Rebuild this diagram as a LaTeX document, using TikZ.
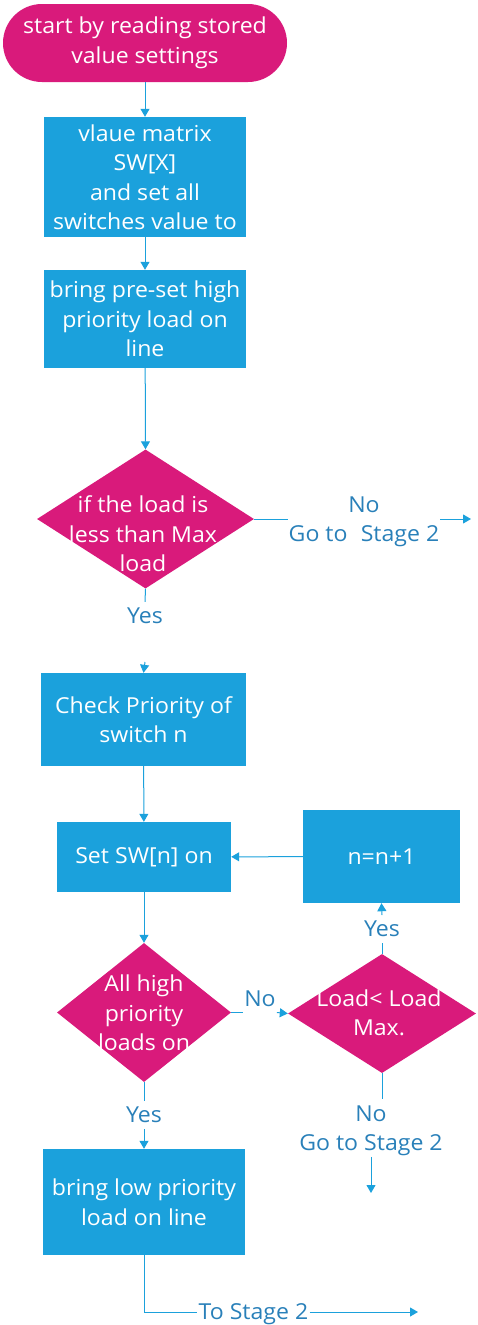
\documentclass[tikz,border=0pt]{standalone}
\usepackage{fontspec}
\setmainfont{Open Sans}[FakeStretch=1.05]
\usetikzlibrary{shapes.geometric,arrows.meta}
\definecolor{mag}{RGB}{217,26,123}
\definecolor{blu}{RGB}{27,161,220}
\definecolor{lbl}{RGB}{41,128,185}
\begin{document}
\begin{tikzpicture}[x=1pt,y=-1pt,
  font=\fontsize{22}{29.5}\selectfont,
  startbox/.style={rectangle, rounded corners=39pt, fill=mag, text=white, align=center, inner sep=0pt, minimum width=284pt, minimum height=78pt},
  box/.style={rectangle, fill=blu, text=white, align=center, inner sep=0pt},
  dia/.style={diamond, fill=mag, inner sep=0pt},
  dtxt/.style={text=white, align=center, inner sep=0pt},
  lab/.style={text=lbl, align=center, inner xsep=1pt, inner ysep=6pt, text depth=0pt},
  ln/.style={draw=blu, line width=1pt},
  arr/.style={draw=blu, line width=1pt, -{Triangle[length=8pt,width=9pt]}}]
\useasboundingbox (0,0) rectangle (477,1325);

\node[startbox] (s) at (145,43) {start by reading stored\\value settings};
\node[box, minimum width=202pt, minimum height=120pt] (b1) at (145,177) {vlaue matrix\\SW[X]\\and set all\\switches value to};
\node[box, minimum width=202pt, minimum height=98pt] (b2) at (145,319) {bring pre-set high\\priority load on\\line};
\node[dia, minimum width=217pt, minimum height=139pt] (d1) at (145.5,519) {};
\node[dtxt] (d1t) at (143,534) {if the load is\\less than Max\\load};
\node[lab] (no1) at (364,519) {No\\Go to\hspace{0.6em}Stage 2};
\coordinate (e1) at (471,519);
\node[lab] (yes1) at (145,616) {Yes};
\coordinate (c1) at (145,662);
\node[box, minimum width=205pt, minimum height=93pt] (b3) at (143.5,719.5) {Check Priority of\\switch n};
\node[box, minimum width=174pt, minimum height=70pt] (b4) at (144,857) {Set SW[n] on};
\node[box, minimum width=157pt, minimum height=93pt] (b5) at (381.5,856.5) {n=n+1};
\node[dia, minimum width=174pt, minimum height=139pt] (d2) at (144,1012.5) {};
\node[dtxt] (d2t) at (144,1013) {All high\\priority\\loads on};
\node[dia, minimum width=188pt, minimum height=119pt] (d3) at (382,1013.5) {};
\node[dtxt] (d3t) at (379,1013) {Load< Load\\Max.};
\node[lab] (no3) at (260,999) {No};
\node[lab] (yes2) at (382,929) {Yes};
\coordinate (c2) at (382,915);
\node[lab] (yes3) at (144,1115) {Yes};
\node[lab] (no2) at (371,1128) {No\\Go to Stage 2};
\coordinate (e3) at (371,1193);
\node[box, minimum width=202pt, minimum height=106pt] (b6) at (144,1202) {bring low priority\\load on line};
\node[lab, inner ysep=0pt] (to2) at (253.5,1312) {To Stage 2};
\coordinate (e2) at (418,1312);

\draw[arr] (s) -- (b1);
\draw[arr] (b1) -- (b2);
\draw[arr] (b2) -- (d1.north);
\draw[ln] (d1.east) -- (no1.west);
\draw[arr] (no1.east) -- (e1);
\draw[ln] (d1.south) -- (yes1.north);
\draw[arr] (c1) -- (b3.north);
\draw[arr] (b3) -- (b4);
\draw[arr] (b5) -- (b4);
\draw[arr] (b4) -- (d2.north);
\draw[ln] (d2.east) -- (no3.west |- d2.east);
\draw[arr] (no3.east |- d2.east) -- (d3.west);
\draw[ln] (d3.north) -- (yes2.south);
\draw[arr] (c2) -- (b5.south);
\draw[ln] (d2.south) -- (yes3.north);
\draw[arr] (yes3.south) -- (b6.north);
\draw[ln] (d3.south) -- (d3.south |- no2.north);
\draw[arr] (no2.south) -- (e3);
\draw[ln] (b6.south) |- (to2.west);
\draw[arr] (to2.east) -- (e2);
\end{tikzpicture}
\end{document}
